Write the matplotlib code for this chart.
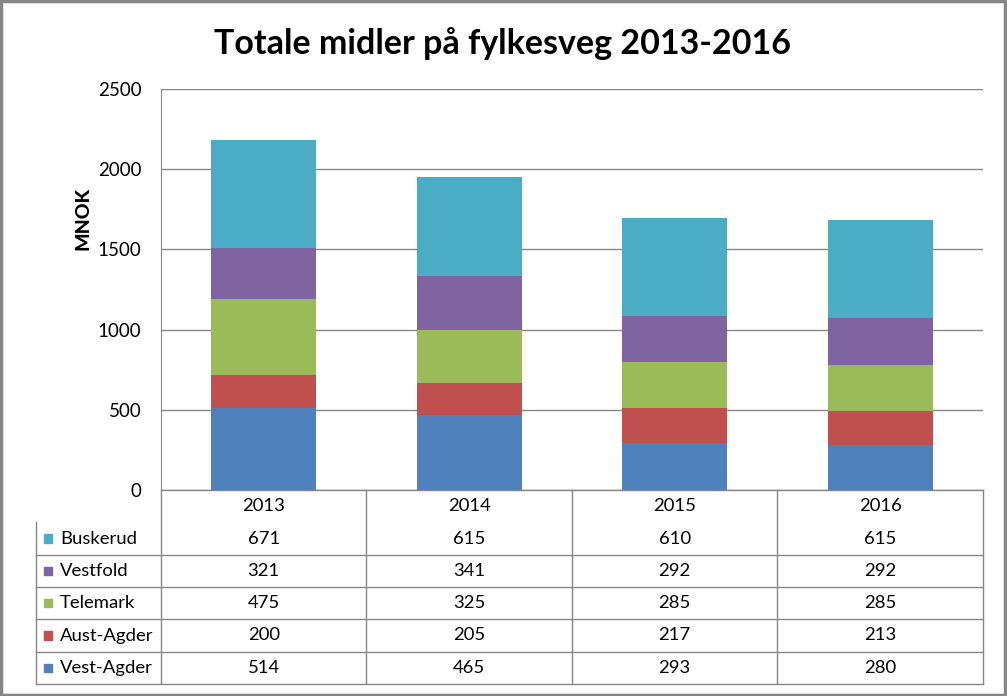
import matplotlib
matplotlib.use("Agg")
import matplotlib.pyplot as plt
from matplotlib.patches import Rectangle
import numpy as np

years = ["2013", "2014", "2015", "2016"]
vest_agder = [514, 465, 293, 280]
aust_agder = [200, 205, 217, 213]
telemark = [475, 325, 285, 285]
vestfold = [321, 341, 292, 292]
buskerud = [671, 615, 610, 615]

series_names = ["Vest-Agder", "Aust-Agder", "Telemark", "Vestfold", "Buskerud"]
series_vals = [vest_agder, aust_agder, telemark, vestfold, buskerud]
colors = ["#4F81BD", "#C0504D", "#9BBB59", "#8064A2", "#4BACC6"]

FONT = ["Lato", "DejaVu Sans"]
plt.rcParams['font.family'] = FONT

W, H = 1007, 696
fig = plt.figure(figsize=(W / 100, H / 100), dpi=100)

def fx(px):
    return px / W

def fy(py):
    return 1 - py / H

# plot area
L, R, T, B = 161, 983, 89, 490
ax = fig.add_axes([fx(L), fy(B), fx(R - L), (B - T) / H])
x = np.arange(len(years))
bottom = np.zeros(len(years))
for name, vals, c in zip(series_names, series_vals, colors):
    ax.bar(x, vals, width=0.51, bottom=bottom, color=c, label=name, zorder=3)
    bottom += np.array(vals)
ax.set_xlim(-0.5, len(years) - 0.5)
ax.set_ylim(0, 2500)
ax.set_yticks(np.arange(0, 2501, 500))
ax.yaxis.grid(True, color="#868686", linewidth=1.0, zorder=0)
ax.set_xticks([])
for s in ["top", "right", "bottom"]:
    ax.spines[s].set_visible(False)
ax.spines["left"].set_color("#868686")
ax.tick_params(axis="y", length=0, labelsize=13.5, pad=14)
for lab in ax.get_yticklabels():
    lab.set_fontfamily(FONT)

fig.text(fx(83), fy(218), "MNOK", rotation=90, ha="center", va="center",
         fontsize=14, fontweight="black")
fig.text(fx(503), fy(44), "Totale midler på fylkesveg 2013-2016", ha="center",
         va="center", fontsize=24.5, fontweight="bold")

# data table
TL = 36
tax = fig.add_axes([fx(TL), fy(684), fx(R - TL), (684 - B) / H])
unit = (R - L) / len(years)
x0 = -0.5 - (L - TL) / unit
tax.set_xlim(x0, len(years) - 0.5)
nrows = len(series_names) + 1
tax.set_ylim(0, nrows)
tax.axis("off")
lc = "#868686"
lw = 1.0
fs = 13.3
# horizontal lines
tax.plot([-0.5, len(years) - 0.5], [nrows, nrows], color=lc, lw=lw, clip_on=False)
for r in range(nrows - 1):
    tax.plot([x0, len(years) - 0.5], [r, r], color=lc, lw=lw, clip_on=False)
# vertical lines
tax.plot([x0, x0], [0, nrows - 1], color=lc, lw=lw, clip_on=False)
for i in range(len(years) + 1):
    tax.plot([i - 0.5, i - 0.5], [0, nrows], color=lc, lw=lw, clip_on=False)
# header
for i, yr in enumerate(years):
    tax.text(i, nrows - 0.5, yr, ha="center", va="center", fontsize=fs)
# rows (top row = Buskerud)
for k, (name, vals, c) in enumerate(zip(series_names[::-1], series_vals[::-1], colors[::-1])):
    yc = nrows - 1.5 - k
    tax.add_patch(Rectangle((x0 + 8 / unit, yc - 0.13), 8 / unit, 0.26,
                            color=c, clip_on=False))
    tax.text(x0 + 24 / unit, yc, name, ha="left", va="center", fontsize=fs)
    for i, v in enumerate(vals):
        tax.text(i, yc, str(v), ha="center", va="center", fontsize=fs)

# outer frame
fig.patches.append(Rectangle((0.001, 0.001), 0.997, 0.997, transform=fig.transFigure,
                             fill=False, edgecolor="#868686", linewidth=2.5))

fig.savefig("out.png", dpi=100)
